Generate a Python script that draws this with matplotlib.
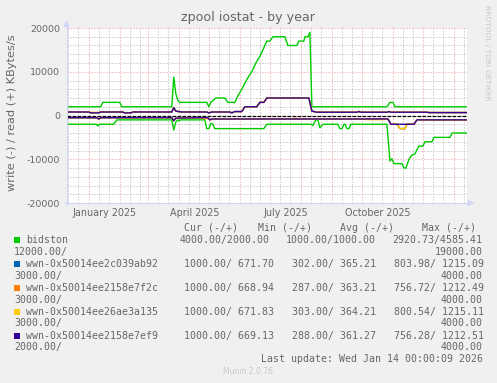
import numpy as np
import matplotlib
matplotlib.use("Agg")
import matplotlib.pyplot as plt
import matplotlib.dates as mdates
from matplotlib.patches import Rectangle, Polygon

# ---------------- data (x = days after 2025-01-01) ----------------
series_names = ["bidston", "wwn-0x50014ee2c039ab92", "wwn-0x50014ee2158e7f2c",
                "wwn-0x50014ee26ae3a135", "wwn-0x50014ee2158e7ef9"]
series_colors = ["#00CC00", "#0066B3", "#FF8000", "#FFCC00", "#330099"]

bidston_read_days = [-22, 12, 14, 31, 33, 83, 85, 87, 89, 91, 118, 120, 122, 127, 136, 139,
                     146, 149, 153, 157, 160, 163, 167, 171, 175, 178, 181, 184, 196, 199,
                     208, 210, 215, 216, 219, 221, 223, 298, 301, 304, 306, 378]
bidston_read = [2000, 2000, 3000, 3000, 2000, 2000, 8800, 5000, 3500, 3000, 3000, 2000, 3000, 4000, 4000, 3000,
                3000, 4500, 6000, 7800, 9000, 10000, 12000, 13500, 15500, 17000, 17000, 18000, 18000, 16000,
                16000, 17000, 17000, 18000, 18000, 19000, 2000, 2000, 3000, 3000, 2000, 2000]

bidston_write_days = [-22, 8, 9, 11, 25, 28, 83, 85, 87, 89, 90, 92, 116, 118, 120, 122, 124, 126,
                      175, 178, 222, 224, 227, 229, 231, 234, 249, 251, 253, 255, 256, 258, 260, 262,
                      298, 301, 303, 305, 313, 315, 317, 320, 323, 326, 328, 330, 334, 336, 343, 345,
                      361, 363, 378]
bidston_write = [-2000, -2000, -2400, -2000, -2000, -1000, -1000, -3300, -1500, -1000, -1200, -1000,
                 -1000, -3000, -3000, -1800, -2000, -3000, -3000, -2000, -2000, -2300, -1000, -1000,
                 -2800, -2000, -2000, -3000, -3000, -2000, -2000, -3000, -3000, -2000, -2000, -10400,
                 -9900, -11000, -11000, -12000, -12000, -10000, -9000, -8800, -7800, -7000, -7000,
                 -6000, -6000, -5000, -5000, -4000, -4000]

disk_read_days = [-22, 0, 2, 10, 12, 34, 36, 42, 44, 83, 85, 87, 93, 118, 120, 123, 141, 143, 146,
                  153, 156, 168, 171, 175, 178, 220, 223, 228, 268, 270, 272, 298, 300, 302, 338, 340, 378]
ab92_read = [800, 800, 600, 600, 800, 800, 600, 600, 800, 800, 1800, 1000, 800, 800, 600, 800, 800, 600, 900,
             900, 2000, 2000, 3000, 3000, 4000, 4000, 1000, 750, 750, 900, 750, 750, 900, 750, 750, 670, 670]
e7f2c_read = [800, 800, 700, 700, 800, 800, 600, 600, 800, 800, 1800, 1000, 800, 800, 600, 800, 800, 600, 900,
              900, 2000, 2000, 3000, 3000, 4000, 4000, 1000, 750, 750, 1000, 750, 750, 900, 750, 750, 670, 670]
ae3a135_read = [800, 800, 600, 600, 800, 800, 600, 600, 800, 800, 1800, 1000, 800, 800, 600, 800, 800, 600, 900,
                900, 2000, 2000, 3000, 3000, 4000, 4000, 1000, 750, 750, 900, 750, 750, 1000, 750, 750, 670, 670]
e7ef9_read = [800, 800, 600, 600, 800, 800, 600, 600, 800, 800, 1800, 1000, 800, 800, 600, 800, 800, 600, 900,
              900, 2000, 2000, 3000, 3000, 4000, 4000, 1000, 750, 750, 900, 750, 750, 900, 750, 750, 670, 670]

disk_write_days = [-22, 8, 10, 12, 83, 85, 87, 110, 113, 119, 121, 123, 203, 205, 208, 210, 276, 278,
                   295, 297, 299, 302, 308, 311, 316, 318, 325, 328, 378]
ab92_write = [-500, -500, -800, -500, -500, -1200, -600, -500, -500, -500, -1000, -800, -800, -800, -800, -800,
              -800, -800, -800, -800, -800, -2000, -2000, -3000, -3000, -2000, -2000, -1000, -1000]
e7f2c_write = [-500, -500, -800, -500, -500, -1200, -600, -500, -700, -700, -1000, -800, -800, -650, -650, -800,
               -800, -800, -800, -800, -800, -2000, -2000, -3000, -3000, -2000, -2000, -1000, -1000]
ae3a135_write = [-500, -500, -800, -500, -500, -1200, -600, -500, -500, -500, -1000, -800, -800, -800, -800, -800,
                 -800, -950, -950, -800, -800, -2000, -2000, -3000, -3000, -2000, -2000, -1000, -1000]
e7ef9_write = [-500, -500, -800, -500, -500, -1200, -600, -500, -500, -500, -1000, -800, -800, -800, -800, -800,
               -800, -800, -800, -800, -800, -2000, -2000, -2000, -2000, -2000, -2000, -1000, -1000]

legend_rows = [
    ("4000.00/2000.00", "1000.00/1000.00", "2920.73/4585.41", "12000.00/", "19000.00"),
    ("1000.00/ 671.70", "302.00/ 365.21", "803.98/ 1215.09", "3000.00/", "4000.00"),
    ("1000.00/ 668.94", "287.00/ 363.21", "756.72/ 1212.49", "3000.00/", "4000.00"),
    ("1000.00/ 671.83", "303.00/ 364.21", "800.54/ 1215.11", "3000.00/", "4000.00"),
    ("1000.00/ 669.13", "288.00/ 361.27", "756.28/ 1212.51", "2000.00/", "4000.00"),
]
x_labels = ["January 2025", "April 2025", "July 2025", "October 2025"]
x_label_dates = ["2025-01-17", "2025-04-17", "2025-07-17", "2025-10-17"]

# ---------------- figure ----------------
W, H = 497, 383
FG = "#666666"
fig = plt.figure(figsize=(W / 100, H / 100), dpi=100, facecolor="#F0F0F0")

def fx(x):
    return x / W

def fy(y):
    return 1 - y / H

L, R, T, B = 66.7, 467.0, 28.0, 203.0
ax = fig.add_axes([fx(L), fy(B), (R - L) / W, (B - T) / H])
ax.set_facecolor("white")

base = np.datetime64("2025-01-01")

def to_dates(days):
    return base + np.array(days).astype("timedelta64[D]")

ax.set_xlim(np.datetime64("2024-12-10"), np.datetime64("2026-01-14"))
ax.set_ylim(-20000, 20000)

# grid
ax.xaxis.set_major_locator(mdates.MonthLocator())
ax.xaxis.set_minor_locator(mdates.DayLocator(bymonthday=[11, 21]))
ax.set_yticks(np.arange(-20000, 20001, 10000))
ax.set_yticks(np.arange(-20000, 20001, 2000), minor=True)
ax.grid(which="minor", color="#b0b0b0", lw=0.72, linestyle=(0, (1, 2)))
ax.grid(which="major", color="#EB9595", lw=0.72, linestyle=(0, (1, 2)))
ax.set_axisbelow(True)
ax.tick_params(which="both", length=0)
ax.set_xticklabels([])
ax.set_yticklabels([f"{int(v)}" for v in np.arange(-20000, 20001, 10000)],
                   fontsize=6.8, color=FG)
ax.tick_params(axis="y", pad=4.6)
for s in ax.spines.values():
    s.set_visible(False)

# zero line
ax.axhline(0, color="black", lw=0.9, linestyle=(0, (3, 1)), zorder=2)

lw = 1.0
ax.plot(to_dates(bidston_read_days), bidston_read, color=series_colors[0], lw=lw, zorder=3)
ax.plot(to_dates(bidston_write_days), bidston_write, color=series_colors[0], lw=lw, zorder=3)
reads = [ab92_read, e7f2c_read, ae3a135_read, e7ef9_read]
writes = [ab92_write, e7f2c_write, ae3a135_write, e7ef9_write]
for i, (rd, wr) in enumerate(zip(reads, writes)):
    ax.plot(to_dates(disk_read_days), rd, color=series_colors[i + 1], lw=lw, zorder=4 + i)
    ax.plot(to_dates(disk_write_days), wr, color=series_colors[i + 1], lw=lw, zorder=4 + i)

# x labels
for lab, d in zip(x_labels, x_label_dates):
    ax.text(mdates.date2num(np.datetime64(d)), (B - 213) / (B - T), lab,
            transform=ax.get_xaxis_transform(), ha="center", va="center",
            fontsize=6.9, color=FG)

# axes lines and arrows
AX = "#CFD6F8"
fig.add_artist(plt.Line2D([fx(L), fx(L)], [fy(B + 2), fy(26)], color=AX, lw=0.8))
fig.add_artist(plt.Line2D([fx(L - 2), fx(469)], [fy(B), fy(B)], color=AX, lw=0.8))
fig.add_artist(Polygon([(fx(64.3), fy(26.5)), (fx(69.1), fy(26.5)), (fx(L), fy(21.3))],
                       closed=True, color=AX, transform=fig.transFigure))
fig.add_artist(Polygon([(fx(468), fy(200.6)), (fx(468), fy(205.4)), (fx(473.3), fy(B))],
                       closed=True, color=AX, transform=fig.transFigure))

# title and labels
fig.text(fx(248), fy(18), "zpool iostat - by year", ha="center", va="center",
         fontsize=9.1, color=FG)
fig.text(fx(12), fy(113), "write (-) / read (+) KBytes/s", rotation=90,
         ha="center", va="center", fontsize=8.2, color=FG)
fig.text(fx(487), fy(5), "RRDTOOL / TOBI OETIKER", rotation=270, ha="center", va="top",
         fontsize=5.4, color="#C8C8C8")

# legend
MONO = dict(family="DejaVu Sans Mono", fontsize=7.1, color=FG)
hdr_y = 228
for txt, x in zip(["Cur (-/+)", "Min (-/+)", "Avg (-/+)", "Max (-/+)"], [184, 257.5, 340, 422.5]):
    fig.text(fx(x), fy(hdr_y), txt, ha="left", va="center", **MONO)

row_y = [240, 264, 287.8, 311.6, 335.6]
cur_x = [180, 184.3, 184.3, 184.3, 184.3]
min_x = [286, 291.7, 291.7, 291.7, 291.7]
avg_x = [392.7, 394, 394, 394, 394]
for i, (name, col, vals) in enumerate(zip(series_names, series_colors, legend_rows)):
    y = row_y[i]
    fig.add_artist(Rectangle((fx(14), fy(y + 3)), 6 / W, 6 / H, transform=fig.transFigure,
                             facecolor=col, edgecolor="none"))
    fig.text(fx(26), fy(y), name, ha="left", va="center", **MONO)
    fig.text(fx(cur_x[i]), fy(y), vals[0], ha="left", va="center", **MONO)
    fig.text(fx(min_x[i]), fy(y), vals[1], ha="left", va="center", **MONO)
    fig.text(fx(avg_x[i]), fy(y), vals[2], ha="left", va="center", **MONO)
    fig.text(fx(14), fy(y + 11.8), vals[3], ha="left", va="center", **MONO)
    fig.text(fx(482.7), fy(y + 11.8), vals[4], ha="right", va="center", **MONO)

fig.text(fx(482.7), fy(359.3), "Last update: Wed Jan 14 00:00:09 2026", ha="right",
         va="center", **MONO)
fig.text(fx(248), fy(372), "Munin 2.0.76", ha="center", va="center", fontsize=5.5,
         color="#C8C8C8")

fig.savefig("out.png", dpi=100, facecolor=fig.get_facecolor())
